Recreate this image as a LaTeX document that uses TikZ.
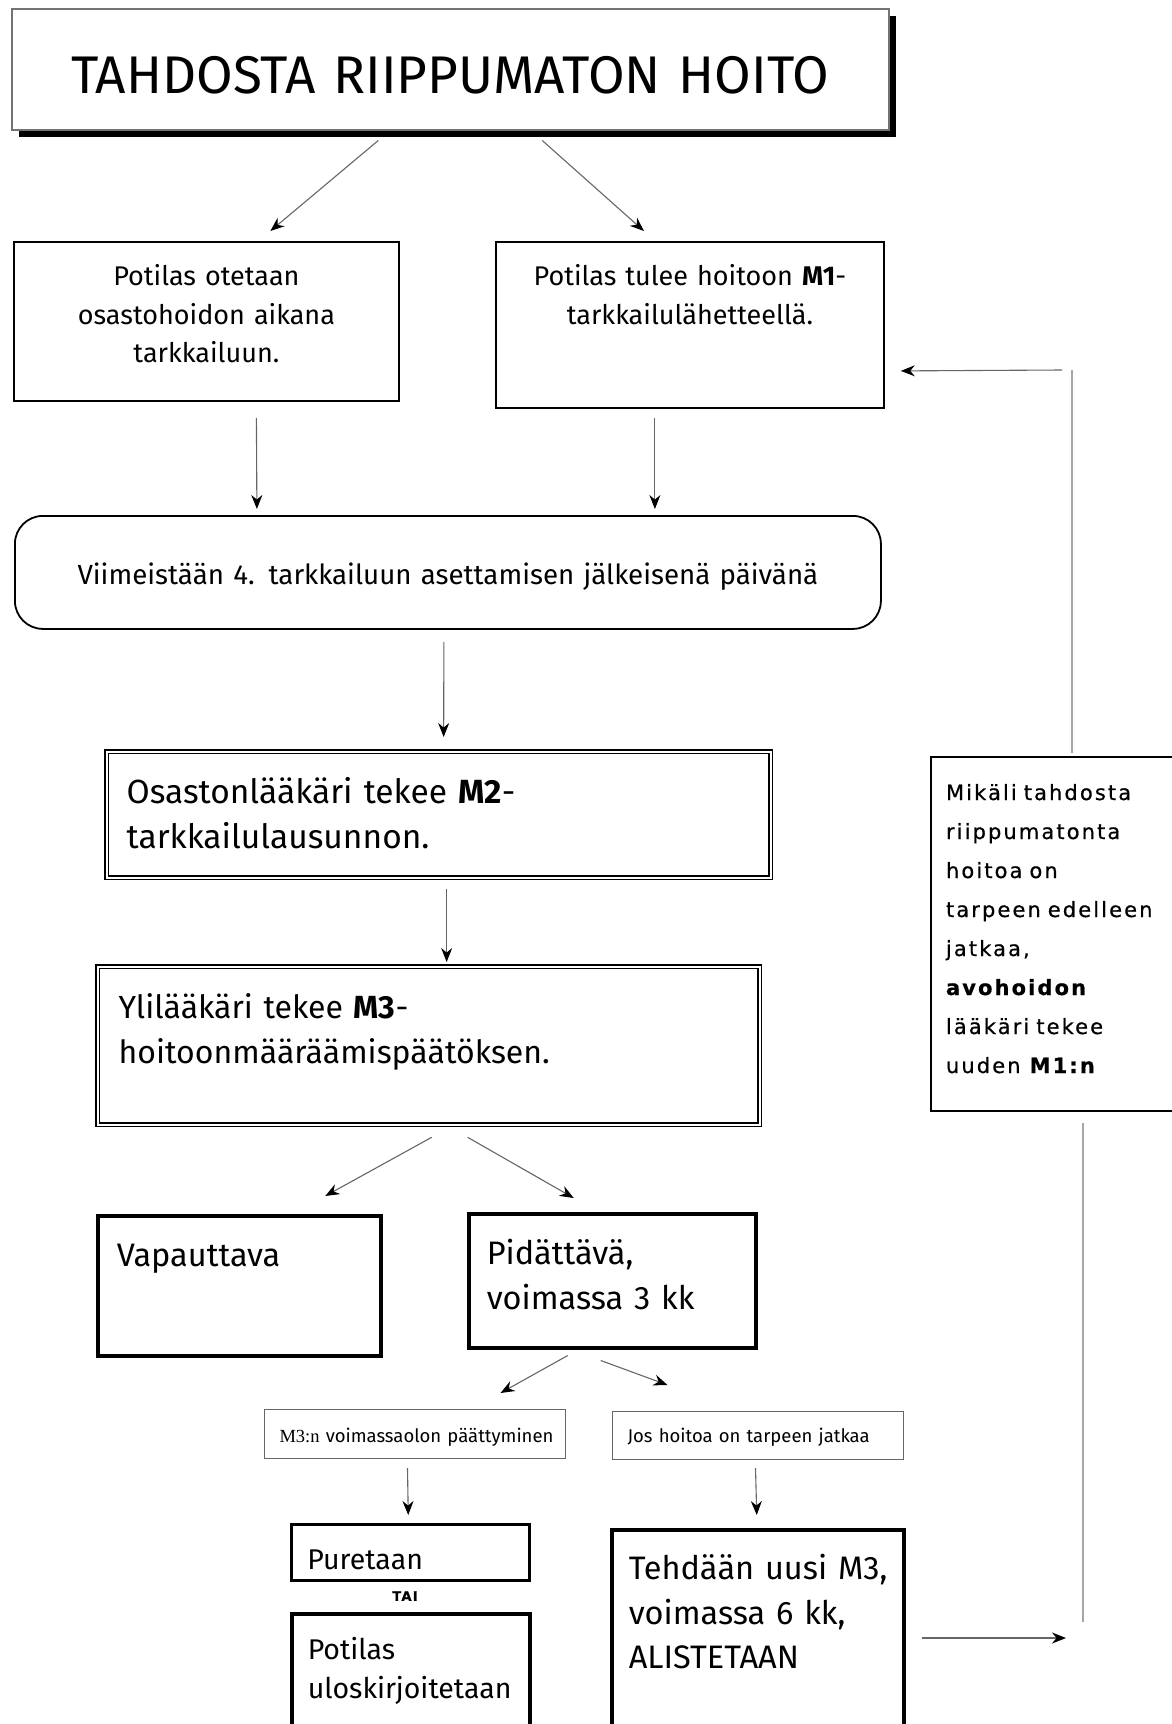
\documentclass[tikz,border=0pt]{standalone}
\usepackage{fontspec}
\setmainfont{Fira Sans}[Numbers=Lining]
\newfontfamily\widefont{DejaVu Sans}[LetterSpace=10, FakeBold=0.6]
\newfontfamily\timesfont{Liberation Serif}
\usetikzlibrary{arrows.meta, positioning, shadows}

\begin{document}
\begin{tikzpicture}[
        x=1pt, y=-1pt,
        box/.style={rectangle, draw=black, fill=white, anchor=north west, inner ysep=0pt, align=left},
        title/.style={box, draw=black!55, line width=1.5pt, align=center, inner xsep=0pt, font=\fontsize{53}{60}\selectfont,
            drop shadow={shadow xshift=7pt, shadow yshift=-7pt, opacity=1, fill=black}},
        plainbox/.style={box, line width=1.8pt, align=center, inner xsep=0pt, font=\fontsize{27}{38.5}\selectfont},
        roundbox/.style={plainbox, rounded corners=28pt},
        doublebox/.style={box, double, line width=1.3pt, double distance=2pt, font=\fontsize{32}{45}\selectfont},
        thickbox/.style={box, line width=3.5pt, font=\fontsize{32.5}{45}\selectfont},
        smallbox/.style={box, draw=black!60, line width=1pt, inner xsep=15pt, font=\fontsize{18.5}{20}\selectfont},
        notebox/.style={box, line width=2pt, font=\widefont\fontsize{21}{39}\selectfont},
        edge/.style={draw=black!60, line width=1.1pt, -{Stealth[length=14pt, width=11pt, black]}},
        loopline/.style={draw=black!35, line width=2.5pt}
    ]
        \useasboundingbox[fill=white] (0,0) rectangle (1172,1724);

        % Heading
        \node[title, text width=877pt, text height=85pt, text depth=36pt] (title) at (11,8) {TAHDOSTA RIIPPUMATON HOITO};

        % Ways into observation
        \node[plainbox, text width=385pt, text height=44pt, text depth=115pt] (otetaan) at (13,241)
            {Potilas otetaan\\osastohoidon aikana\\tarkkailuun.};
        \node[plainbox, text width=388pt, text height=44pt, text depth=122pt] (lahete) at (495,241)
            {Potilas tulee hoitoon \textbf{M1}-\\tarkkailulähetteellä.};
        \node[roundbox, font=\fontsize{27.7}{38.5}\selectfont, text width=866pt, text height=69pt, text depth=44pt] (viimeistaan) at (14,515)
            {Viimeistään 4. tarkkailuun asettamisen jälkeisenä päivänä};

        % Statement and decision
        \node[doublebox, font=\fontsize{33.5}{45}\selectfont, inner xsep=20pt, text width=624pt, text height=52pt, text depth=74pt] (m2) at (106,751)
            {Osastonlääkäri tekee \textbf{M2}-\\tarkkailulausunnon.};
        \node[doublebox, inner xsep=21pt, text width=620pt, text height=52pt, text depth=106pt] (m3) at (97,966)
            {Ylilääkäri tekee \textbf{M3}-\\hoitoonmääräämispäätöksen.};

        \node[thickbox, inner xsep=19pt, text width=245pt, text height=51pt, text depth=89pt] (vapauttava) at (96,1214)
            {Vapauttava};
        \node[thickbox, inner xsep=18pt, text width=251pt, text height=51pt, text depth=83pt] (pidattava) at (467,1212)
            {Pidättävä,\\voimassa 3 kk};

        \node[smallbox, text width=271pt, text height=33pt, text depth=16pt] (paattyminen) at (264,1409)
            {\mbox{{\timesfont M3:n} voimassaolon päättyminen}};
        \node[smallbox, text width=261pt, text height=31pt, text depth=17pt] (jatkaa) at (612,1411)
            {\mbox{Jos hoitoa on tarpeen jatkaa}};

        % End of the period
        \node[box, line width=2.5pt, font=\fontsize{28.5}{39}\selectfont, inner xsep=16pt, text width=206pt,
            text height=45pt, text depth=11pt] (puretaan) at (290,1523) {Puretaan};
        \node[font=\widefont\bfseries\fontsize{13}{15}\selectfont, inner sep=0pt] (tai) at (405,1596) {TAI};
        \node[thickbox, font=\fontsize{28.5}{39}\selectfont, inner xsep=16pt, text width=206pt,
            text height=46pt, text depth=122pt] (uloskirj) at (290,1612) {Potilas\\uloskirjoitetaan};
        \node[thickbox, font=\fontsize{32.5}{44.5}\selectfont, inner xsep=17pt, text width=258pt,
            text height=50pt, text depth=202pt] (uusim3) at (610,1528)
            {\mbox{Tehdään uusi M3,}\\voimassa 6 kk,\\ALISTETAAN};

        % Outpatient note
        \node[notebox, inner xsep=15pt, text width=225pt, text height=43pt, text depth=311pt] (mikali) at (930,756)
            {Mikäli tahdosta\\riippumatonta\\hoitoa on\\tarpeen edelleen\\jatkaa,\\\textbf{avohoidon}\\lääkäri tekee\\uuden \textbf{M1:n}};

        \coordinate (looptop) at (1072,370);
        \coordinate (loopbottom) at (1083,1622);
        \coordinate (back) at (1066,1638);

        \draw[edge] ([shift={(-72,10)}]title.south) -- ([shift={(64,-10)}]otetaan.north);
        \draw[edge] ([shift={(92,10)}]title.south) -- ([shift={(-46,-10)}]lahete.north);
        \draw[edge] ([shift={(50,16)}]otetaan.south) -- ([shift={(-191,-6)}]viimeistaan.north);
        \draw[edge] ([shift={(-35,9)}]lahete.south) -- ([shift={(207,-6)}]viimeistaan.north);
        \draw[edge] ([shift={(-4,12)}]viimeistaan.south) -- ([shift={(5,-14)}]m2.north);
        \draw[edge] ([shift={(8,11)}]m2.south) -- ([shift={(18,-4)}]m3.north);
        \draw[edge] ([shift={(3,12)}]m3.south) -- ([shift={(86,-18)}]vapauttava.north);
        \draw[edge] ([shift={(39,12)}]m3.south) -- ([shift={(-38.5,-14)}]pidattava.north);
        \draw[edge] ([shift={(-44.5,6)}]pidattava.south) -- ([shift={(85.5,-16)}]paattyminen.north);
        \draw[edge] ([shift={(-11.5,11)}]pidattava.south) -- ([shift={(-90.5,-26)}]jatkaa.north);
        \draw[edge] ([shift={(-7.5,9)}]paattyminen.south) -- ([shift={(-2,-8)}]puretaan.north);
        \draw[edge] ([shift={(-2.5,8)}]jatkaa.south) -- ([shift={(-1,-13)}]uusim3.north);
        \draw[edge] ([shift={(16,110)}]uusim3.north east) -- (back);

        % Back to a new M1
        \draw[loopline] ([shift={(153,11)}]mikali.south west) -- (loopbottom);
        \draw[loopline] ([shift={(142,-3)}]mikali.north west) -- (looptop);
        \draw[edge] ([xshift=-10pt]looptop) -- ([shift={(16,46)}]lahete.east);

    \end{tikzpicture}
\end{document}
